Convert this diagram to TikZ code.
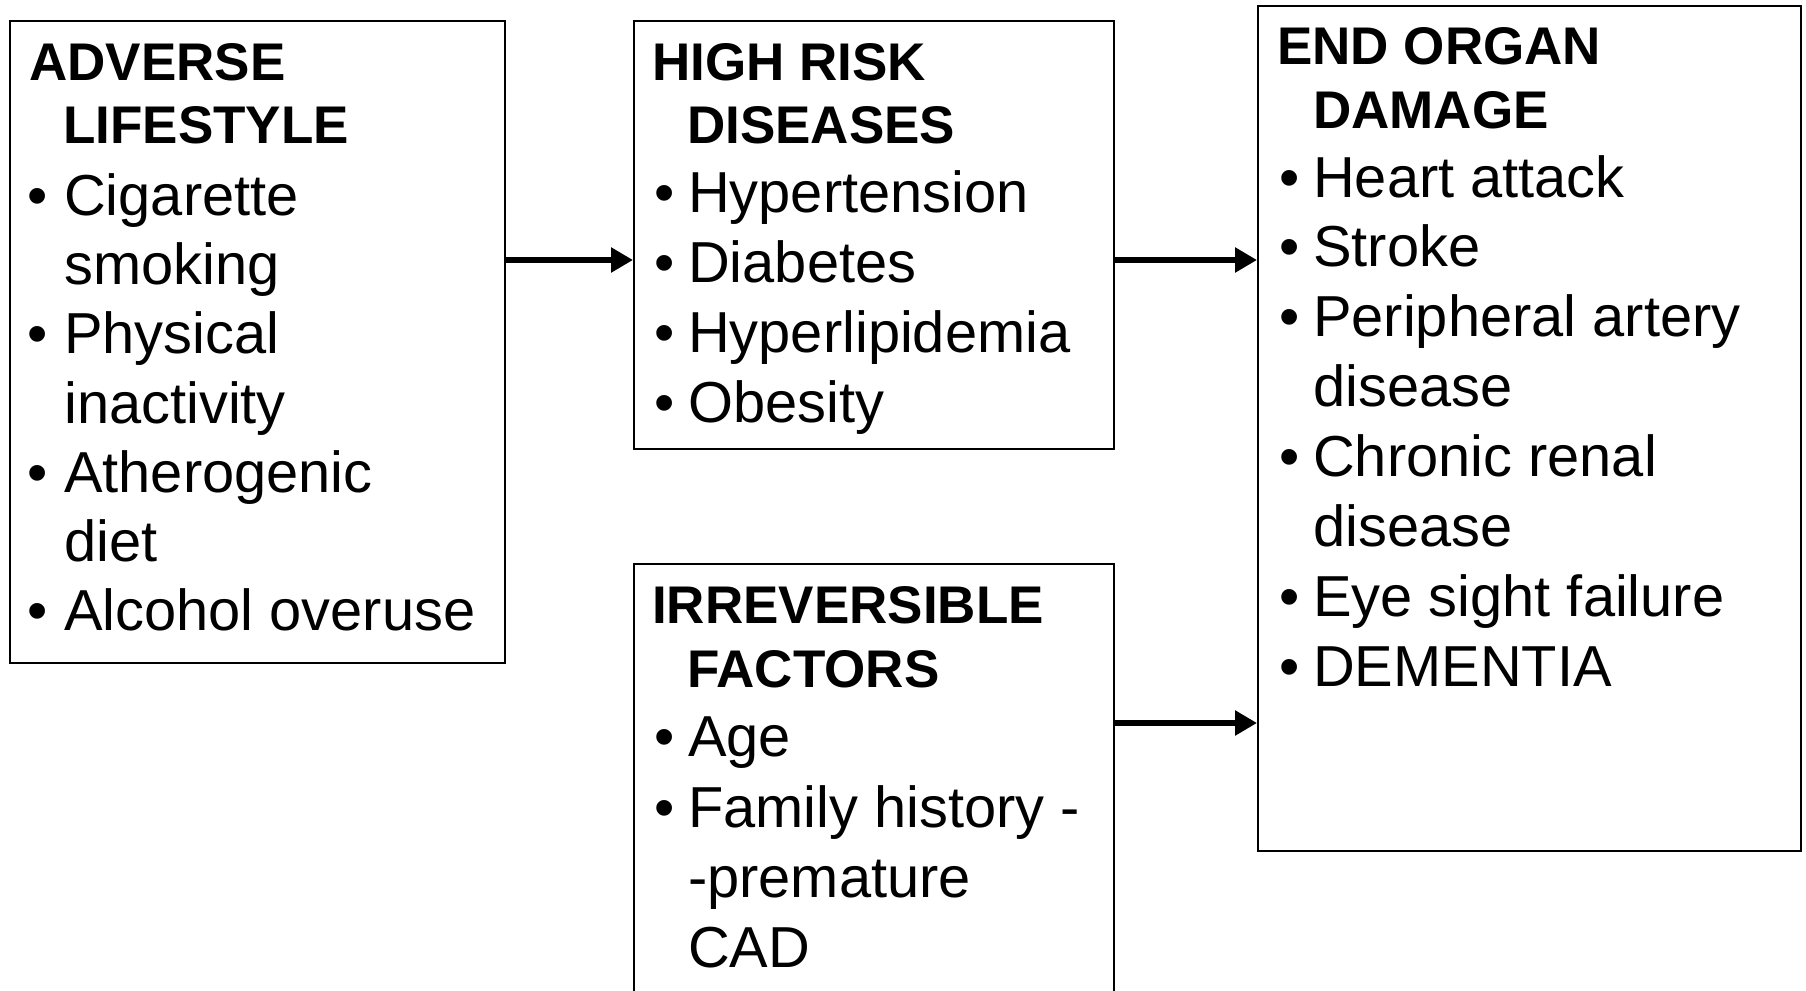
\documentclass[tikz,border=0pt]{standalone}
\usepackage{fontspec}
\setmainfont{Liberation Sans}
\usetikzlibrary{arrows.meta}
\begin{document}
\begin{tikzpicture}[x=1pt,y=-1pt,
  box/.style={draw, line width=2pt, inner sep=0pt, anchor=north west},
  ttl/.style={anchor=base west, inner sep=0pt, font=\fontsize{53}{62}\selectfont\bfseries},
  itm/.style={anchor=base west, inner sep=0pt, font=\fontsize{57.8}{69}\selectfont},
  arr/.style={line width=6.5pt, -{Triangle[length=22pt,width=24pt]}}]
\useasboundingbox (0,0) rectangle (1806,990);
% boxes
\node[box, minimum width=495pt, minimum height=642pt] (lb) at (9,20) {};
\node[box, minimum width=480pt, minimum height=428pt] (mt) at (633,20) {};
\node[box, minimum width=480pt, minimum height=450pt] (mb) at (633,563) {};
\node[box, minimum width=543pt, minimum height=845pt] (rb) at (1257,5) {};
% left box text
\node[ttl] (l1) at (29,80) {ADVERSE};
\node[ttl] (l2) at (63,143) {LIFESTYLE};
\node[itm] (lb1) at (27,215) {•};
\node[itm] (l3) at (64,215) {Cigarette};
\node[itm] (l4) at (64,284) {smoking};
\node[itm] (lb2) at (27,353) {•};
\node[itm] (l5) at (64,353) {Physical};
\node[itm] (l6) at (64,423) {inactivity};
\node[itm] (lb3) at (27,492) {•};
\node[itm] (l7) at (64,492) {Atherogenic};
\node[itm] (l8) at (64,561) {diet};
\node[itm] (lb4) at (27,630) {•};
\node[itm] (l9) at (64,630) {Alcohol overuse};
% middle top text
\node[ttl] (m1) at (652,80) {HIGH RISK};
\node[ttl] (m2) at (687,143) {DISEASES};
\node[itm] (mb1) at (654,212) {•};
\node[itm] (m3) at (688,212) {Hypertension};
\node[itm] (mb2) at (654,282) {•};
\node[itm] (m4) at (688,282) {Diabetes};
\node[itm] (mb3) at (654,352) {•};
\node[itm] (m5) at (688,352) {Hyperlipidemia};
\node[itm] (mb4) at (654,422) {•};
\node[itm] (m6) at (688,422) {Obesity};
% middle bottom text
\node[ttl] (n1) at (652,623) {IRREVERSIBLE};
\node[ttl] (n2) at (687,687) {FACTORS};
\node[itm] (nb1) at (654,756) {•};
\node[itm] (n3) at (688,756) {Age};
\node[itm] (nb2) at (654,827) {•};
\node[itm] (n4) at (688,827) {Family history -};
\node[itm] (n5) at (688,897) {-premature};
\node[itm] (n6) at (688,967) {CAD};
% right box text
\node[ttl] (r1) at (1277,65) {END ORGAN};
\node[ttl] (r2) at (1313,128) {DAMAGE};
\node[itm] (rb1) at (1279,197) {•};
\node[itm] (r3) at (1313,197) {Heart attack};
\node[itm] (rb2) at (1279,266) {•};
\node[itm] (r4) at (1313,266) {Stroke};
\node[itm] (rb3) at (1279,336) {•};
\node[itm] (r5) at (1313,336) {Peripheral artery};
\node[itm] (r6) at (1313,406) {disease};
\node[itm] (rb4) at (1279,476) {•};
\node[itm] (r7) at (1313,476) {Chronic renal};
\node[itm] (r8) at (1313,546) {disease};
\node[itm] (rb5) at (1279,616) {•};
\node[itm] (r9) at (1313,616) {Eye sight failure};
\node[itm] (rb6) at (1279,686) {•};
\node[itm] (r10) at (1313,686) {DEMENTIA};
% arrows
\draw[arr] ([yshift=-240pt]lb.north east) -- ([yshift=-240pt]mt.north west);
\draw[arr] ([yshift=-240pt]mt.north east) -- ([yshift=-255pt]rb.north west);
\draw[arr] ([yshift=-160pt]mb.north east) -- ([yshift=-718pt]rb.north west);
\end{tikzpicture}
\end{document}
